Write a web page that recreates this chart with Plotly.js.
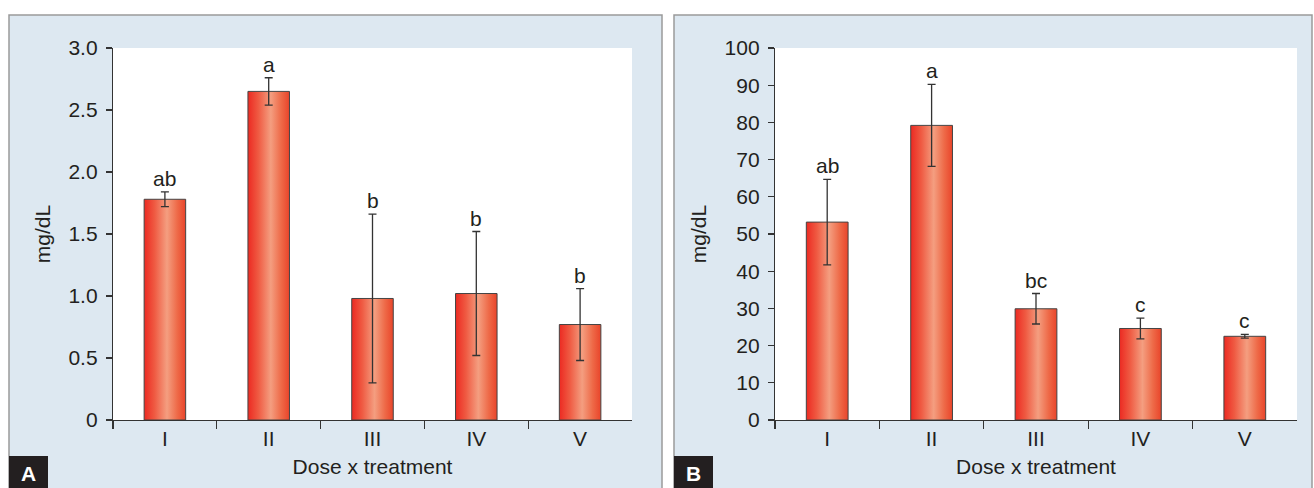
<!DOCTYPE html>
<html>
<head>
<meta charset="utf-8">
<script src="https://cdn.plot.ly/plotly-3.0.1.min.js"></script>
<style>
html,body{margin:0;padding:0;background:#fff;}
#chart{width:1314px;height:488px;}
</style>
</head>
<body>
<div id="chart"></div>
<script>
const categories = ['I', 'II', 'III', 'IV', 'V'];
const valuesA = [1.78, 2.65, 0.98, 1.02, 0.77];
const errorsA = [0.06, 0.11, 0.68, 0.50, 0.29];
const lettersA = ['ab', 'a', 'b', 'b', 'b'];
const valuesB = [53.2, 79.2, 29.9, 24.6, 22.5];
const errorsB = [11.5, 11.0, 4.1, 2.8, 0.5];
const lettersB = ['ab', 'a', 'bc', 'c', 'c'];
const yTicksA = [0, 0.5, 1.0, 1.5, 2.0, 2.5, 3.0];
const yTickTextA = ['0', '0.5', '1.0', '1.5', '2.0', '2.5', '3.0'];
const yTicksB = [0, 10, 20, 30, 40, 50, 60, 70, 80, 90, 100];
const yTitle = 'mg/dL';
const xTitle = 'Dose x treatment';
const panelLabels = ['A', 'B'];

const W = 1314, H = 488;
const px = v => v / W;
const py = v => 1 - v / H;
const FONT = 'Liberation Sans, Arial, sans-serif';
const TXT = '#231f20';
const AX = '#333333';

function barTrace(vals, errs, xa, ya) {
  return {
    type: 'bar', x: categories, y: vals, xaxis: xa, yaxis: ya,
    width: 0.4,
    marker: {color: '#ee5a3c', line: {color: '#444', width: 1}},
    error_y: {type: 'data', array: errs, visible: true, color: '#333', thickness: 1.3, width: 4},
    hoverinfo: 'x+y', showlegend: false
  };
}

const data = [barTrace(valuesA, errorsA, 'x', 'y'), barTrace(valuesB, errorsB, 'x2', 'y2')];

function xAxis(domain, anchor) {
  return {
    domain: domain, anchor: anchor, type: 'category',
    range: [-0.5, 4.5], fixedrange: true,
    showline: true, linecolor: AX, linewidth: 1.2,
    ticks: 'outside', tickson: 'boundaries', ticklen: 8, tickwidth: 1.2, tickcolor: AX,
    tickfont: {family: FONT, size: 21, color: TXT},
    showgrid: false, zeroline: false,
    title: {text: xTitle, font: {family: FONT, size: 21, color: TXT}, standoff: 9}
  };
}
function yAxis(domain, anchor, range, ticks, texts) {
  return {
    domain: domain, anchor: anchor, range: range, fixedrange: true,
    tickmode: 'array', tickvals: ticks, ticktext: texts,
    showline: true, linecolor: AX, linewidth: 1.2,
    ticks: 'outside', ticklen: 6, tickwidth: 1.2, tickcolor: AX,
    ticklabelstandoff: 4,
    tickfont: {family: FONT, size: 21, color: TXT},
    showgrid: false, zeroline: false,
    title: {text: yTitle, font: {family: FONT, size: 21, color: TXT}, standoff: 12}
  };
}

const yDom = [py(420), py(48)];
const shapes = [
  {type: 'rect', xref: 'paper', yref: 'paper', x0: px(9), x1: px(662), y0: py(500), y1: py(15),
   fillcolor: '#dde8f1', line: {color: '#9a9a9a', width: 1.5}, layer: 'below'},
  {type: 'rect', xref: 'paper', yref: 'paper', x0: px(674), x1: px(1312), y0: py(500), y1: py(15),
   fillcolor: '#dde8f1', line: {color: '#9a9a9a', width: 1.5}, layer: 'below'},
  {type: 'rect', xref: 'x domain', yref: 'y domain', x0: 0, x1: 1, y0: 0, y1: 1,
   fillcolor: '#ffffff', line: {width: 0}, layer: 'below'},
  {type: 'rect', xref: 'x2 domain', yref: 'y2 domain', x0: 0, x1: 1, y0: 0, y1: 1,
   fillcolor: '#ffffff', line: {width: 0}, layer: 'below'},
  {type: 'rect', xref: 'paper', yref: 'paper', x0: px(9), x1: px(48), y0: py(489), y1: py(456),
   fillcolor: '#231f20', line: {width: 0}, layer: 'above'},
  {type: 'rect', xref: 'paper', yref: 'paper', x0: px(674), x1: px(713), y0: py(489), y1: py(456),
   fillcolor: '#231f20', line: {width: 0}, layer: 'above'}
];

const annotations = [];
categories.forEach((c, i) => {
  annotations.push({xref: 'x', yref: 'y', x: c, y: valuesA[i] + errorsA[i], text: lettersA[i],
    showarrow: false, yanchor: 'bottom', yshift: 0, font: {family: FONT, size: 21, color: TXT}});
  annotations.push({xref: 'x2', yref: 'y2', x: c, y: valuesB[i] + errorsB[i], text: lettersB[i],
    showarrow: false, yanchor: 'bottom', yshift: 0, font: {family: FONT, size: 21, color: TXT}});
});
annotations.push({xref: 'paper', yref: 'paper', x: px(28.5), y: py(473), text: '<b>' + panelLabels[0] + '</b>',
  showarrow: false, xanchor: 'center', yanchor: 'middle', font: {family: FONT, size: 21, color: '#ffffff'}});
annotations.push({xref: 'paper', yref: 'paper', x: px(693.5), y: py(473), text: '<b>' + panelLabels[1] + '</b>',
  showarrow: false, xanchor: 'center', yanchor: 'middle', font: {family: FONT, size: 21, color: '#ffffff'}});

const layout = {
  width: W, height: H,
  margin: {l: 0, r: 0, t: 0, b: 0, pad: 0},
  paper_bgcolor: '#ffffff', plot_bgcolor: 'rgba(0,0,0,0)',
  bargap: 0.6,
  xaxis: xAxis([px(113), px(632)], 'y'),
  yaxis: yAxis(yDom, 'x', [0, 3.0], yTicksA, yTickTextA),
  xaxis2: xAxis([px(775), px(1297)], 'y2'),
  yaxis2: yAxis(yDom, 'x2', [0, 100], yTicksB, yTicksB.map(String)),
  shapes: shapes, annotations: annotations,
  font: {family: FONT, color: TXT}
};

Plotly.newPlot('chart', data, layout, {displayModeBar: false, staticPlot: true}).then(gd => {
  const svg = gd.querySelector('svg.main-svg');
  const ns = 'http://www.w3.org/2000/svg';
  let defs = svg.querySelector('defs');
  if (!defs) { defs = document.createElementNS(ns, 'defs'); svg.insertBefore(defs, svg.firstChild); }
  const grad = document.createElementNS(ns, 'linearGradient');
  grad.setAttribute('id', 'barGrad');
  grad.setAttribute('x1', '0'); grad.setAttribute('y1', '0');
  grad.setAttribute('x2', '1'); grad.setAttribute('y2', '0');
  [['0', '#ec2a22'], ['0.25', '#ef5a42'], ['0.55', '#f49e80'], ['0.8', '#ee6a48'], ['1', '#e9442a']].forEach(s => {
    const st = document.createElementNS(ns, 'stop');
    st.setAttribute('offset', s[0]); st.setAttribute('stop-color', s[1]);
    grad.appendChild(st);
  });
  defs.appendChild(grad);
  gd.querySelectorAll('.trace.bars .point path').forEach(p => { p.style.fill = 'url(#barGrad)'; });
});
</script>
</body>
</html>
